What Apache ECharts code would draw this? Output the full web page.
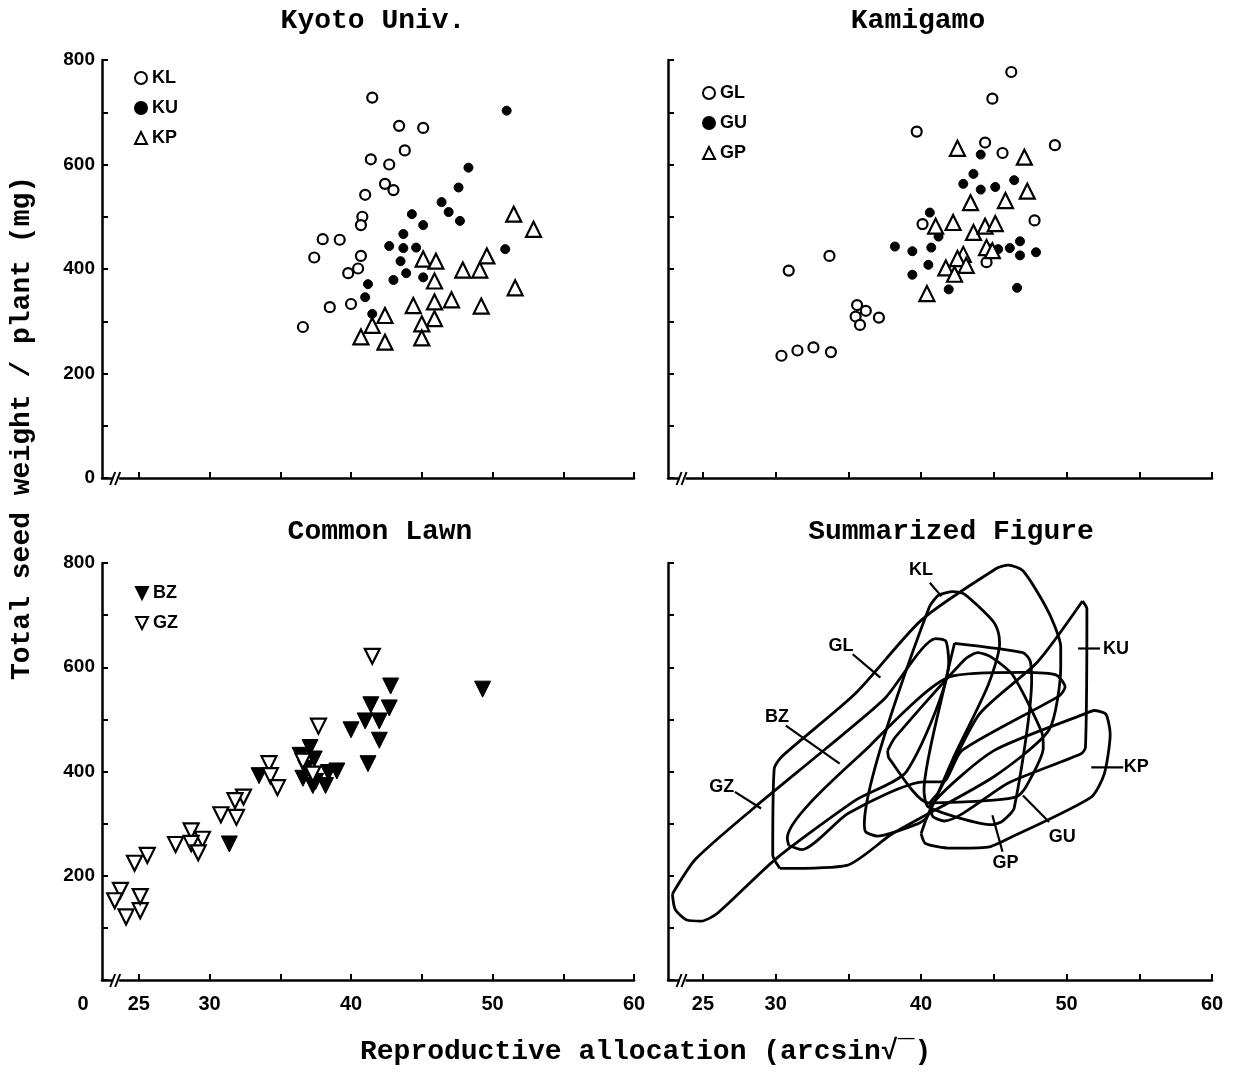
<!DOCTYPE html>
<html><head><meta charset="utf-8">
<script src="https://cdn.jsdelivr.net/npm/echarts@6/dist/echarts.min.js"></script>
<style>html,body{margin:0;padding:0;background:#fff}#c{width:1242px;height:1074px}</style>
</head><body><div id="c"></div>
<script>
// ---------- DATA (x = reproductive allocation, arcsin deg; y = total seed weight / plant, mg) ----------
const panelTitles = ['Kyoto Univ.', 'Kamigamo', 'Common Lawn', 'Summarized Figure'];
const xTickValues = [25, 30, 35, 40, 45, 50, 55, 60];
const xLabelValues = [25, 30, 40, 50, 60];
const yTickValues = [0, 100, 200, 300, 400, 500, 600, 700, 800];

// Kyoto Univ.
const KL = [[41.5,728],[43.4,674],[45.1,670],[43.8,627],[41.4,610],[42.7,600],[42.4,563],[43.0,551],[41.0,542],[40.8,500],[40.7,484],[38.0,457],[39.2,456],[37.4,422],[40.7,425],[40.5,401],[39.8,392],[38.5,327],[40.0,333],[36.6,289]];
const KU = [[51.0,703],[48.3,594],[47.6,556],[46.4,528],[46.9,509],[47.7,492],[44.3,505],[45.1,484],[43.7,467],[42.7,444],[43.7,440],[44.6,441],[50.9,438],[43.5,415],[43.9,392],[45.1,384],[43.0,379],[41.2,371],[41.0,346],[41.5,314]];
const KP = [[51.5,505],[52.9,476],[49.6,425],[49.1,398],[47.9,398],[45.1,419],[46.0,415],[45.9,377],[47.1,341],[44.4,330],[45.9,337],[49.2,329],[51.6,364],[45.9,305],[45.0,295],[42.4,311],[41.5,292],[40.7,270],[42.4,260],[45.0,268]];
// Kamigamo
const GL = [[46.2,777],[44.9,726],[39.7,663],[44.4,642],[49.2,637],[45.6,622],[47.8,493],[40.1,486],[33.7,425],[30.9,397],[35.6,331],[36.2,320],[37.1,307],[35.5,309],[35.8,293],[30.4,234],[31.5,244],[32.6,250],[33.8,241],[44.5,413],[44.7,437]];
const GU = [[44.1,619],[43.6,582],[42.9,563],[44.1,552],[45.1,557],[46.4,570],[40.6,508],[41.2,462],[38.2,443],[39.4,434],[40.7,441],[40.5,408],[39.4,389],[41.9,361],[46.6,364],[46.8,453],[47.9,432],[46.8,426],[46.1,440],[45.3,438]];
const GP = [[42.5,631],[47.1,614],[47.3,549],[45.8,531],[43.4,527],[42.2,489],[41.0,482],[43.6,470],[44.4,482],[45.1,487],[42.9,428],[42.5,420],[43.1,407],[41.7,402],[42.3,390],[40.4,353],[44.5,441],[44.9,435]];
// Common Lawn
const BZ = [[49.3,558],[42.8,564],[41.4,528],[42.7,522],[42.0,497],[41.0,497],[40.0,480],[42.0,460],[41.2,415],[37.1,446],[36.4,431],[37.4,424],[36.8,406],[38.4,398],[39.0,401],[36.6,387],[37.5,381],[38.2,373],[37.3,373],[33.5,392],[31.4,261]];
const GZ = [[41.5,621],[37.7,487],[34.2,415],[34.3,392],[34.8,369],[32.4,351],[31.8,344],[30.8,317],[31.9,312],[28.7,286],[29.5,270],[28.7,262],[29.2,244],[27.6,260],[25.6,239],[24.7,224],[23.7,172],[23.3,152],[24.1,121],[25.1,133],[25.1,160],[36.6,420],[37.3,395]];
// Summarized Figure: outline vertices of each population envelope
const envGZ = [[22.9,165],[23.1,135],[23.9,115],[24.9,113],[26.0,128],[30.0,232],[35.5,345],[39.0,400],[41.9,610],[41.7,650],[41.0,655],[37.5,540],[33.5,445],[28.5,330],[24.5,232],[22.9,165]];
const envGL = [[30.3,214],[34.9,220],[38.0,280],[45.0,390],[48.8,480],[49.6,600],[49.6,640],[49.2,678],[48.5,720],[47.0,785],[46.0,796],[45.2,790],[40.0,690],[35.5,550],[30.4,428],[29.9,405],[29.8,240],[30.3,214]];
const envKL = [[40.6,718],[41.2,738],[42.2,745],[43.0,740],[44.9,690],[45.3,668],[45.4,645],[44.6,565],[42.2,425],[40.4,312],[39.8,300],[37.0,276],[36.2,284],[36.1,300],[40.6,718]];
const envKU = [[51.1,727],[51.4,712],[51.3,446],[51.0,434],[46.0,378],[41.6,305],[40.8,314],[40.6,338],[41.2,360],[44.0,510],[48.0,610],[51.1,727]];
const envKP = [[40.0,281],[40.3,262],[42.0,253],[44.6,255],[45.9,270],[51.7,351],[52.6,396],[53.0,472],[52.7,510],[51.9,517],[51.2,510],[45.0,440],[41.0,345],[40.0,281]];
const envGP = [[42.3,646],[47.0,628],[47.5,612],[47.6,574],[46.4,330],[45.6,305],[44.9,298],[40.5,332],[40.2,364],[41.8,587],[42.3,646]];
const envGU = [[37.7,440],[38.2,465],[43.0,615],[43.9,628],[44.8,620],[46.3,585],[48.3,475],[48.4,445],[47.2,370],[46.6,352],[45.0,345],[40.5,340],[37.8,425],[37.7,440]];
const envBZ = [[30.9,258],[31.8,250],[35.0,320],[40.2,380],[41.5,380],[42.8,440],[49.5,545],[49.9,562],[49.3,585],[47.0,590],[42.0,582],[36.5,450],[30.8,272],[30.9,258]];
// envelope labels: [name, labelX, labelY, leaderFromX, leaderFromY, leaderToX, leaderToY]
const envLabels = [
  ['KL', 40.0, 787, 40.6, 762, 41.4, 736],
  ['GL', 34.5, 641, 35.3, 625, 37.2, 580],
  ['BZ', 30.1, 504, 30.7, 488, 34.4, 415],
  ['GZ', 26.3, 370, 27.2, 361, 29.0, 329],
  ['KU', 53.4, 634, 52.3, 636, 50.8, 636],
  ['KP', 54.8, 408, 53.9, 408, 51.7, 408],
  ['GU', 49.7, 275, 48.8, 303, 47.0, 354],
  ['GP', 45.8, 224, 45.6, 246, 44.9, 316]
];

// ---------- CHART ----------
const FONT_T = '"Liberation Mono", "DejaVu Sans Mono", monospace';
const FONT_L = '"Liberation Sans", Arial, sans-serif';
const XMIN_L = 22.4, XMIN_R = 22.6, XMAX = 60;

const grids = [
  {left: 102, top: 60, width: 532, height: 418},
  {left: 668, top: 60, width: 544, height: 418},
  {left: 102, top: 563, width: 532, height: 417},
  {left: 668, top: 563, width: 544, height: 417}
];

function xAxis(i, showLabels, zeroLabel) {
  const min = (i % 2 === 0) ? XMIN_L : XMIN_R;
  const vals = zeroLabel ? [min].concat(xLabelValues) : xLabelValues;
  return {
    type: 'value', gridIndex: i, min: min, max: XMAX,
    axisLine: {show: true, onZero: false, lineStyle: {color: '#000', width: 2.5}},
    axisTick: {show: true, inside: true, length: 6, customValues: xTickValues, lineStyle: {color: '#000', width: 2}},
    axisLabel: {
      show: showLabels, customValues: vals, margin: 14,
      color: '#000', fontFamily: FONT_L, fontWeight: 'bold', fontSize: 20,
      formatter: function (v) { return (Math.abs(v - min) < 1e-6) ? '{z|0}' : String(v); },
      rich: {z: {padding: [0, 38, 0, 0], color: '#000', fontFamily: FONT_L, fontWeight: 'bold', fontSize: 20}}
    },
    splitLine: {show: false}
  };
}
function yAxis(i, showLabels, skipZero) {
  return {
    type: 'value', gridIndex: i, min: 0, max: 800, interval: 100,
    axisLine: {show: true, onZero: false, lineStyle: {color: '#000', width: 2.5}},
    axisTick: {show: true, inside: true, length: 6, lineStyle: {color: '#000', width: 2}},
    axisLabel: {
      show: showLabels, margin: 7,
      color: '#000', fontFamily: FONT_L, fontWeight: 'bold', fontSize: 19,
      formatter: function (v) {
        if (v % 200 !== 0) return '';
        if (skipZero && v === 0) return '';
        return String(v);
      }
    },
    splitLine: {show: false}
  };
}

const openStyle = {color: '#fff', borderColor: '#000', borderWidth: 2.2, opacity: 1};
const fillStyle = {color: '#000', borderColor: '#000', borderWidth: 1, opacity: 1};
function sc(name, data, gi, symbol, size, style, rotate) {
  return {
    name: name, type: 'scatter', xAxisIndex: gi, yAxisIndex: gi, data: data,
    symbol: symbol, symbolSize: size, symbolRotate: rotate || 0, itemStyle: style,
    emphasis: {disabled: true},
    z: style === fillStyle ? 3 : 4
  };
}

const series = [
  sc('KL', KL, 0, 'circle', 10, openStyle),
  sc('KU', KU, 0, 'circle', 9, fillStyle),
  sc('KP', KP, 0, 'triangle', 15, openStyle),
  sc('GL', GL, 1, 'circle', 10, openStyle),
  sc('GU', GU, 1, 'circle', 9, fillStyle),
  sc('GP', GP, 1, 'triangle', 15, openStyle),
  sc('BZ', BZ, 2, 'triangle', 16, fillStyle, 180),
  sc('GZ', GZ, 2, 'triangle', 15, openStyle, 180)
];

const envs = [envGZ, envGL, envKL, envKU, envKP, envGP, envGU, envBZ];
envs.forEach(function (d) {
  series.push({
    type: 'line', xAxisIndex: 3, yAxisIndex: 3, data: d, symbol: 'none', smooth: 0.22,
    lineStyle: {color: '#000', width: 2.8}, silent: true
  });
});
envLabels.forEach(function (l) {
  series.push({
    type: 'line', xAxisIndex: 3, yAxisIndex: 3, data: [[l[3], l[4]], [l[5], l[6]]], symbol: 'none',
    lineStyle: {color: '#000', width: 2.2}, silent: true
  });
});
series.push({
  type: 'scatter', xAxisIndex: 3, yAxisIndex: 3, symbolSize: 0, silent: true,
  itemStyle: {opacity: 1},
  data: envLabels.map(function (l) { return {value: [l[1], l[2]], name: l[0]}; }),
  label: {show: true, position: 'inside', formatter: '{b}', color: '#000', opacity: 1,
          fontFamily: FONT_L, fontWeight: 'bold', fontSize: 18}
});

const downTri = 'path://M0,0L10,0L5,10Z';
function legend(items, left, top) {
  return {
    data: items, left: left, top: top, orient: 'vertical', itemGap: 12,
    itemWidth: 12, itemHeight: 12, selectedMode: false,
    textStyle: {color: '#000', fontFamily: FONT_L, fontWeight: 'bold', fontSize: 18, padding: [0, 0, 0, 0]}
  };
}

const titleStyle = {color: '#000', fontFamily: FONT_T, fontWeight: 'bold', fontSize: 28};
const option = {
  backgroundColor: '#fff',
  animation: false,
  title: [
    {text: panelTitles[0], left: 368, top: 2, textAlign: 'center', textStyle: titleStyle},
    {text: panelTitles[1], left: 913, top: 2, textAlign: 'center', textStyle: titleStyle},
    {text: panelTitles[2], left: 375, top: 513, textAlign: 'center', textStyle: titleStyle},
    {text: panelTitles[3], left: 946, top: 513, textAlign: 'center', textStyle: titleStyle}
  ],
  legend: [
    legend(['KL', 'KU', 'KP'], 129, 64),
    legend(['GL', 'GU', 'GP'], 697, 79),
    legend([{name: 'BZ', icon: downTri}, {name: 'GZ', icon: downTri}], 130, 579)
  ],
  grid: grids,
  xAxis: [xAxis(0, false, false), xAxis(1, false, false), xAxis(2, true, true), xAxis(3, true, false)],
  yAxis: [yAxis(0, true, false), yAxis(1, false, false), yAxis(2, true, true), yAxis(3, false, false)],
  series: series,
  graphic: [
    {type: 'text', left: 660 - 300, top: 1038,
     style: {text: 'Reproductive allocation (arcsin√‾)', x: 300, textAlign: 'center', fill: '#000',
             font: 'bold 28px ' + FONT_T}},
    {type: 'text', x: 22, y: 428, rotation: Math.PI / 2,
     style: {text: 'Total seed weight / plant (mg)', textAlign: 'center', textVerticalAlign: 'middle',
             fill: '#000', font: 'bold 28px ' + FONT_T}}
  ]
};

const chart = echarts.init(document.getElementById('c'), null, {renderer: 'canvas'});
chart.setOption(option);

// axis-break marks near the origin of each x axis
const breaks = [];
[0, 1, 2, 3].forEach(function (i) {
  const xmin = (i % 2 === 0) ? XMIN_L : XMIN_R;
  const p = chart.convertToPixel({xAxisIndex: i, yAxisIndex: i}, [xmin + 1.0, 0]);
  breaks.push({type: 'rect', shape: {x: p[0] - 3, y: p[1] - 3, width: 6, height: 6}, style: {fill: '#fff'}, z: 100});
  breaks.push({type: 'line', shape: {x1: p[0] - 6, y1: p[1] + 7, x2: p[0] - 1, y2: p[1] - 6}, style: {stroke: '#000', lineWidth: 2}, z: 101});
  breaks.push({type: 'line', shape: {x1: p[0] - 1, y1: p[1] + 7, x2: p[0] + 4, y2: p[1] - 6}, style: {stroke: '#000', lineWidth: 2}, z: 101});
});
chart.setOption({graphic: option.graphic.concat(breaks)});
</script>
</body></html>
